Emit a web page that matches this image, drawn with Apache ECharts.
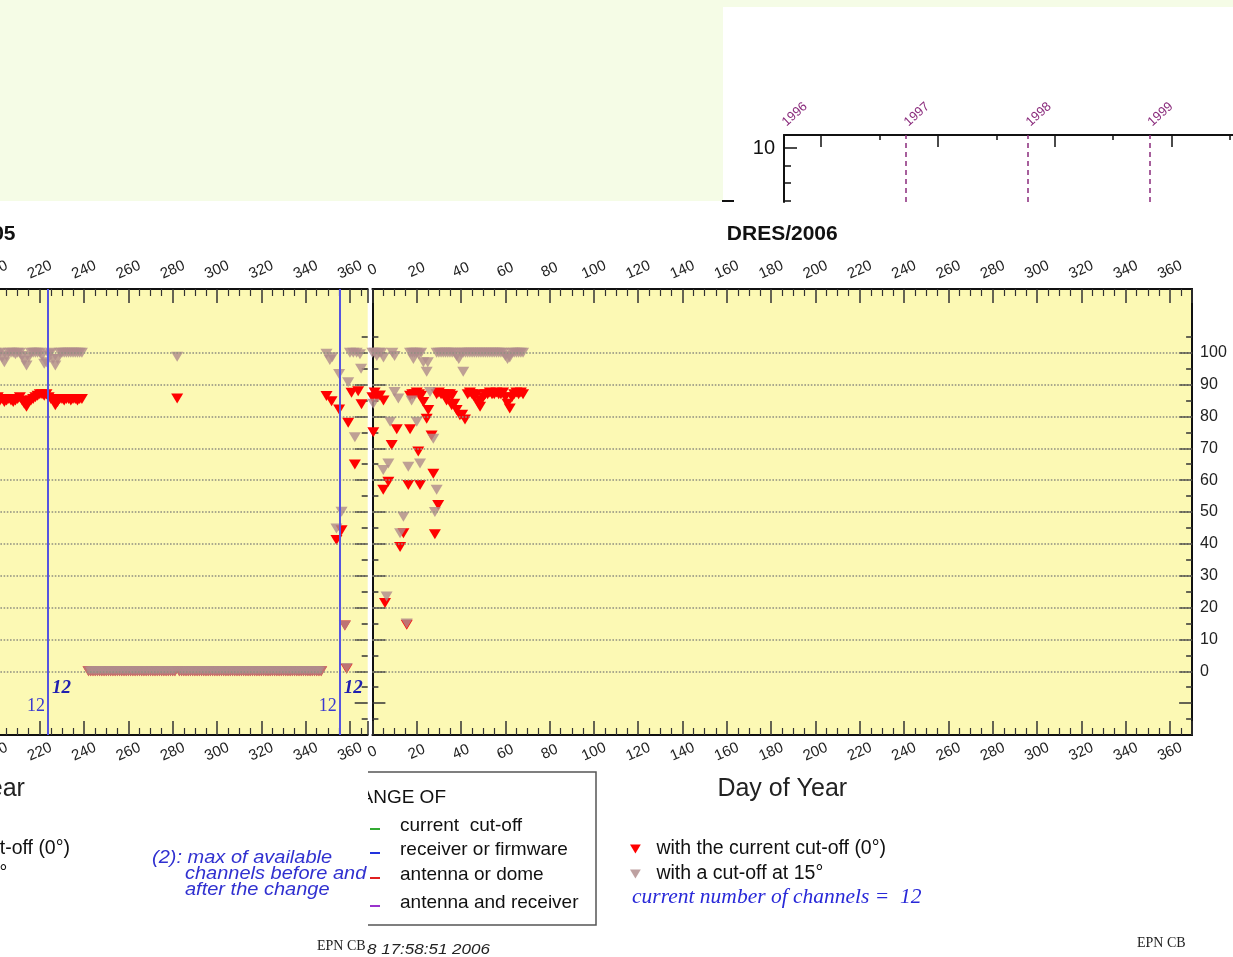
<!DOCTYPE html>
<html><head><meta charset="utf-8">
<script src="https://cdn.jsdelivr.net/npm/echarts@6/dist/echarts.min.js"></script>
<style>
html,body{margin:0;padding:0;background:#fff;overflow:hidden;}
#bgA{position:absolute;left:0;top:0;width:1233px;height:7px;background:#f5fce6;}
#bgB{position:absolute;left:0;top:0;width:723px;height:201px;background:#f5fce6;}
#chart{position:absolute;left:0;top:0;width:1233px;height:957px;}
</style></head><body>
<div id="bgA"></div><div id="bgB"></div><div id="chart"></div>
<script>
// ---------------- data ----------------
const RED_NAME = 'with the current cut-off (0°)';
const GREY_NAME = 'with a cut-off at 15°';
const title2005 = 'DRES/2005';
const title2006 = 'DRES/2006';
const xName = 'Day of Year';

const yGridValues = [0,10,20,30,40,50,60,70,80,90,100];
const yMajorTicks = [-10,0,10,20,30,40,50,60,70,80,90,100];
const yMinorTicks = [-15,-5,5,15,25,35,45,55,65,75,85,95,105];
const yLabelValues = [0,10,20,30,40,50,60,70,80,90,100];

const changeDays2005 = [223.7, 355.4];
const channelsBefore = ['12','12'];
const channelsAfter = ['12','12'];

// days where both series read 0 in 2005
const zeroRowDays2005 = [242,243,244,245,246,247,248,249,250,251,252,253,254,255,256,257,258,259,260,261,262,263,264,265,266,267,268,269,270,271,272,273,274,275,276,277,278,279,280,281,
283,284,285,286,287,288,289,290,291,292,293,294,295,296,297,298,299,300,301,302,303,304,305,306,307,308,309,310,311,312,313,314,315,316,317,318,319,320,321,322,323,324,325,326,327,328,329,330,331,332,333,334,335,336,337,338,339,340,341,342,343,344,345,346,347];

const red2005 = [
 [200,85.5],[201,86],[202,85],[203,85.5],[204,84.5],[205,85],[206,85.5],[207,85],[208,84.5],[209,85],
 [210,85.5],[211,86],[212,85],[213,84],[214,83],[215,84.5],[216,85],[217,85.5],[218,86],[219,86.5],
 [220,87],[221,87],[222,86.5],[223,87],[224,86],[225,85.5],[226,85],[227,83.5],[228,84.5],[229,85.5],
 [230,85.5],[231,85],[232,85.5],[233,85.5],[234,85],[235,85.5],[236,85.5],[237,85],[238,85.5],[239,85.5],
 [282,85.6],
 [349.4,86.4],[351.7,84.8],[355.1,82.2],[360.7,87.4],[363.7,87.9],[365.2,83.8],[359.2,78],[362.2,64.9],
 [356.2,44.3],[353.9,41.2],[357.7,14.4],[358.5,0.8]
];
const grey2005 = [
 [200,100],[201,99.5],[202,100],[203,98.5],[204,97],[205,99],[206,100],[207,100],[208,100],[209,99.5],
 [210,100],[211,100],[212,99],[213,97.5],[214,96],[215,98.5],[216,100],[217,100],[218,100],[219,100],
 [220,100],[221,99],[222,96.5],[223,97],[224,99.5],[225,100],[226,98],[227,96],[228,98],[229,100],
 [230,100],[231,100],[232,100],[233,100],[234,100],[235,100],[236,100],[237,100],[238,100],[239,100],
 [282,98.7],
 [349.4,99.7],[350.9,97.7],[352,98.6],[355.1,93.3],[359.2,90.7],[360,100],[361.5,100],[363,100],[364.5,99.5],
 [365,95],[362.2,73.5],[356.2,50.1],[353.9,44.8],[357.7,14.4],[358.5,1]
];
const red2006 = [
 [0,86],[1,87.5],[2,86],[3.4,86.6],[5,85],
 [17,86.5],[18,87],[19,87],[20,87.5],[21,87],[22,86.5],[23,84.5],
 [29,87],[30,87.5],[31,87],[32,87],[33,86],[34,87],[35,87],[36,86.5],
 [33.5,85],[35.8,83.5],[37,84],[38,82],[39.5,80.4],[40.5,80.5],[41.8,79],
 [43,87],[44,87.5],[45,87],[46,86],[47,87],[48,84],[48.6,83],[49,85],[50,86],[51,87],[52,87],[53,87.5],
 [54,87],[55,87],[56,87.5],[57,87],[58,87],[59,87.5],[60,86],[61,84],[62,82.5],[63,86],[64,87],[65,87.5],
 [66,87],[67,87.5],[68,87],
 [0.4,75],[11,76],[17,76],[8.7,71],[20.7,69],[26.7,74],[24.5,79.3],[25.2,82],[27.5,62],[7.2,59.5],[4.9,57],
 [16.2,58.5],[21.5,58.5],[29.7,52.2],[14,43.3],[12.5,39],[28.2,43],[5.7,21.4],[15.5,14.6]
];
const grey2006 = [
 [0,100],[1,100],[2,99],[3,100],[4,100],[5,98.5],[9,100],[10,99],
 [17,100],[18,100],[18.5,98],[19,100],[20,100],[21,99.5],[22,100],[23,97],[24.5,94],[25,97],
 [29,100],[30,100],[31,100],[32,100],[33,100],[34,100],[35,100],[36,100],[37,100],[38,99],[39,98],[40,100],
 [41,100],[42,100],[43,100],[44,100],[45,100],[46,100],[47,100],[48,100],[49,100],[50,100],[51,100],[52,100],
 [53,100],[54,100],[55,100],[56,100],[57,100],[58,100],[59,100],[60,99],[61,98],[62,98.5],[63,100],[64,100],
 [65,100],[66,100],[67,100],[68,100],
 [41,94],
 [0.4,84],[10,87.7],[11.7,85.6],[17.7,85],[26,87.7],[8,78.3],[20,78.3],[27.5,73],[7.2,65.2],[4.9,63.2],
 [16.2,64.2],[21.5,65.2],[29,57],[28.2,50],[14,48.5],[12.5,43.3],[6.4,23.5],[15.5,15]
];

// top-right inset (x in GPS weeks)
const yearLabels = ['1996','1997','1998','1999'];
const yearStartWeeks = [834.14, 886.43, 938.57, 990.71];
const weekMajorTicks = [850, 900, 950, 1000];
const weekMinorTicks = [875, 925, 975, 1025];
const insetMajorY = [10];
const insetMinorY = [7, 8, 9];

// legend box (CHANGE OF)
const changeTypes = ['current  cut-off','receiver or firmware','antenna or dome','antenna and receiver'];
const changeColors = ['#33aa33','#2233dd','#e02020','#9933cc'];

// ---------------- build ----------------
const FONT = '"Liberation Sans", Arial, Helvetica, sans-serif';
const SERIF = '"Liberation Serif", "Times New Roman", serif';
const TRI = 'path://M0,0L12,0L6,10Z';
const RED = '#ff0000';
const GREY = '#b08c8c';
const PLOT_BG = '#fcf9b4';

const full2005Red = red2005.concat(zeroRowDays2005.map(d => [d, 0]));
const full2005Grey = grey2005.concat(zeroRowDays2005.map(d => [d, 0]));

function dayAxis(grid, pos, min, max, withName) {
  return {
    type:'value', gridIndex:grid, position:pos, min:min, max:max, interval:20,
    axisLine:{show:true, onZero:false, lineStyle:{color:'#111', width:2}},
    axisTick:{show:true, inside:true, length:14, lineStyle:{color:'#333', width:1.5}},
    minorTick:{show:true, splitNumber:4, length:7, lineStyle:{color:'#333', width:1.2}},
    axisLabel:{show:true, rotate: pos==='top' ? -24 : 24, margin: pos==='top'?19:17, align:'center', verticalAlign:'middle',
      fontSize:15, fontFamily:FONT, color:'#222'},
    splitLine:{show:false}, minorSplitLine:{show:false},
    name: withName ? xName : '', nameLocation:'middle', nameGap:42,
    nameTextStyle:{fontSize:25, fontFamily:FONT, color:'#222'}
  };
}
function yAxisT(grid, pos, ticks, len, line, labels) {
  const a = {
    type:'value', gridIndex:grid, position:pos, min:-20, max:120,
    axisLine:{show:line, onZero:false, lineStyle:{color:'#111', width:2}},
    axisTick:{show:true, inside:true, length:len, customValues:ticks, lineStyle:{color:'#333', width:1.5}},
    axisLabel:{show:false},
    splitLine:{show:false}
  };
  if (labels) a.axisLabel = {show:true, customValues:labels, margin:8, fontSize:16, fontFamily:FONT, color:'#222'};
  return a;
}

const G0 = {left:-447.6, top:289, width:815.3, height:446};
const G1 = {left:372.4, top:289, width:819.7, height:446};
const G2 = {left:784, top:135, width:449, height:67};
const WEEK_MIN = 834.14, WEEK_MAX = 834.14 + 449/2.3366;
const Y2_MIN = 6.914, Y2_MAX = 10.743;

const gridLineSeries = (xi, yi) => ({
  type:'scatter', xAxisIndex:xi, yAxisIndex:yi, data:[], z:1, silent:true,
  markLine:{silent:true, symbol:'none', label:{show:false}, animation:false,
    lineStyle:{type:'dotted', color:'#8f8f80', width:1.6},
    data: yGridValues.map(v => ({yAxis:v}))}
});
const triSeries = (name, color, xi, yi, data, z, op) => ({
  name:name, type:'scatter', xAxisIndex:xi, yAxisIndex:yi, data:data, z:z,
  symbol:TRI, symbolSize:[12,10], itemStyle:{color:color, opacity:op}, animation:false
});
const gridBase = {show:true, borderWidth:0, outerBoundsMode:'none', containLabel:false};

const option = {
  animation:false,
  backgroundColor:'transparent',
  grid:[
    Object.assign({}, gridBase, {backgroundColor:PLOT_BG}, G0),
    Object.assign({}, gridBase, {backgroundColor:PLOT_BG}, G1),
    Object.assign({}, gridBase, {backgroundColor:'#ffffff'}, G2)
  ],
  xAxis:[
    dayAxis(0,'top',0,368,false),
    dayAxis(0,'bottom',0,368,true),
    dayAxis(1,'top',0,370,false),
    dayAxis(1,'bottom',0,370,true),
    {type:'value', gridIndex:2, position:'top', min:WEEK_MIN, max:WEEK_MAX,
     axisLine:{show:true, onZero:false, lineStyle:{color:'#111', width:2}},
     axisTick:{show:false},
     axisLabel:{show:true, customValues:yearStartWeeks, rotate:-42, margin:11, fontSize:13, fontFamily:FONT,
       color:'#8a2b7c', formatter:function(v){
         let best=0; for (let i=0;i<yearStartWeeks.length;i++){ if (Math.abs(yearStartWeeks[i]-v)<Math.abs(yearStartWeeks[best]-v)) best=i; }
         return yearLabels[best]; }},
     splitLine:{show:false}},
    {type:'value', gridIndex:2, position:'top', min:WEEK_MIN, max:WEEK_MAX,
     axisLine:{show:false, onZero:false}, axisLabel:{show:false}, splitLine:{show:false},
     axisTick:{show:true, inside:true, length:12, customValues:weekMajorTicks, lineStyle:{color:'#111', width:1.5}}},
    {type:'value', gridIndex:2, position:'top', min:WEEK_MIN, max:WEEK_MAX,
     axisLine:{show:false, onZero:false}, axisLabel:{show:false}, splitLine:{show:false},
     axisTick:{show:true, inside:true, length:5, customValues:weekMinorTicks, lineStyle:{color:'#111', width:1.5}}}
  ],
  yAxis:[
    yAxisT(0,'right',yMajorTicks,13,false,null),
    yAxisT(0,'right',yMinorTicks,6,false,null),
    yAxisT(1,'left',yMajorTicks,13,true,null),
    yAxisT(1,'left',yMinorTicks,6,false,null),
    yAxisT(1,'right',yMajorTicks,13,true,yLabelValues),
    yAxisT(1,'right',yMinorTicks,6,false,null),
    {type:'value', gridIndex:2, position:'left', min:Y2_MIN, max:Y2_MAX,
     axisLine:{show:true, onZero:false, lineStyle:{color:'#111', width:2}},
     axisTick:{show:true, inside:true, length:13, customValues:insetMajorY, lineStyle:{color:'#111', width:1.5}},
     axisLabel:{show:true, customValues:insetMajorY, margin:9, fontSize:20, fontFamily:FONT, color:'#111'},
     splitLine:{show:false}},
    {type:'value', gridIndex:2, position:'left', min:Y2_MIN, max:Y2_MAX,
     axisLine:{show:false, onZero:false}, axisLabel:{show:false}, splitLine:{show:false},
     axisTick:{show:true, inside:true, length:7, customValues:insetMinorY, lineStyle:{color:'#111', width:1.5}}}
  ],
  legend:[
    {left:625, top:834, orient:'vertical', itemGap:5, itemWidth:32, itemHeight:9, selectedMode:false,
     textStyle:{fontSize:19.5, fontFamily:FONT, color:'#111'},
     data:[{name:RED_NAME, icon:TRI},{name:GREY_NAME, icon:TRI}]},
    {left:-191, top:834, orient:'vertical', itemGap:5, itemWidth:32, itemHeight:9, selectedMode:false,
     textStyle:{fontSize:19.5, fontFamily:FONT, color:'#111'},
     data:[{name:RED_NAME, icon:TRI},{name:GREY_NAME, icon:TRI}]}
  ],
  series:[
    gridLineSeries(0,0),
    triSeries(RED_NAME, RED, 0, 0, full2005Red, 2, 1),
    triSeries(GREY_NAME, GREY, 0, 0, full2005Grey, 3, 0.82),
    {type:'scatter', xAxisIndex:0, yAxisIndex:0, data:[], z:5, silent:true,
     markLine:{silent:true, symbol:'none', label:{show:false}, animation:false,
       lineStyle:{type:'solid', color:'#5555e0', width:2},
       data: changeDays2005.map(d => ({xAxis:d}))}},
    gridLineSeries(2,4),
    triSeries(RED_NAME, RED, 2, 4, red2006, 2, 1),
    triSeries(GREY_NAME, GREY, 2, 4, grey2006, 3, 0.82),
    {type:'scatter', xAxisIndex:4, yAxisIndex:6, data:[], z:2, silent:true,
     markLine:{silent:true, symbol:'none', label:{show:false}, animation:false,
       lineStyle:{type:[5,4], color:'#8a2b7c', width:1.5},
       data: yearStartWeeks.slice(1).map(w => ({xAxis:w}))}}
  ]
};

const chart = echarts.init(document.getElementById('chart'), null, {renderer:'canvas'});
chart.setOption(option);

// ---------- annotations (text) ----------
const g = [];
function txt(x, y, s, st, z, sy) {
  const el = {type:'text', x:x, y:y, z:z||50, silent:true,
    style:Object.assign({text:s, fontFamily:FONT, fontSize:16, fill:'#111', textAlign:'left', textVerticalAlign:'middle'}, st)};
  if (sy) { el.scaleY = sy; }
  g.push(el);
}
// titles centered on each plot
const c0 = G0.left + G0.width/2, c1 = G1.left + G1.width/2;
txt(c0, 234, title2005, {fontWeight:'bold', fontSize:21, textAlign:'center'});
txt(c1, 234, title2006, {fontWeight:'bold', fontSize:21, textAlign:'center'});

// channel labels next to change lines
changeDays2005.forEach((d, i) => {
  const px = chart.convertToPixel({xAxisIndex:0}, d);
  txt(px - 3, 706, channelsBefore[i], {fontFamily:SERIF, fontSize:18, fill:'#3a3ad0', textAlign:'right'}, 60);
  txt(px + 4, 688, channelsAfter[i], {fontFamily:SERIF, fontSize:19, fontWeight:'bold', fontStyle:'italic', fill:'#2020b0'}, 60);
});

// CHANGE OF box (partly hidden)
g.push({type:'polyline', z:40, silent:true, shape:{points:[[368,772],[596,772],[596,925],[368,925]]},
  style:{stroke:'#555', lineWidth:1.5, fill:null}});
txt(446, 798, 'CHANGE OF', {fontSize:19, textAlign:'right'}, 41);
const boxY = [826, 850, 875, 903];
changeTypes.forEach((t, i) => {
  g.push({type:'line', z:41, silent:true, shape:{x1:370, y1:boxY[i]+3, x2:380, y2:boxY[i]+3},
    style:{stroke:changeColors[i], lineWidth:2}});
  txt(400, boxY[i], t, {fontSize:19}, 41);
});
// left figure covers the box left of x=368
g.push({type:'rect', z:45, silent:true, shape:{x:300, y:770, width:68, height:160}, style:{fill:'#ffffff'}});

// note in blue italic (slightly condensed vertically)
txt(152, 858, '(2): max of available', {fontSize:20, fontStyle:'italic', fill:'#3030d0'}, 55, 0.9);
txt(185, 874, 'channels before and', {fontSize:20, fontStyle:'italic', fill:'#3030d0'}, 55, 0.9);
txt(185, 890, 'after the change', {fontSize:20, fontStyle:'italic', fill:'#3030d0'}, 55, 0.9);

// current number of channels
txt(632, 897, 'current number of channels =  12', {fontFamily:SERIF, fontSize:21.5, fontStyle:'italic', fill:'#2828d8'});

// footers
txt(367, 950, '8 17:58:51 2006', {fontSize:17, fontStyle:'italic', fill:'#222', textAlign:'left'}, 42, 0.88);
txt(317, 946, 'EPN CB', {fontFamily:SERIF, fontSize:14, fill:'#222'}, 56);
txt(1137, 943, 'EPN CB', {fontFamily:SERIF, fontSize:14, fill:'#222'});

// small mark at top-right panel corner
g.push({type:'line', z:40, silent:true, shape:{x1:722, y1:201, x2:734, y2:201}, style:{stroke:'#111', lineWidth:2}});

chart.setOption({graphic:{elements:g}});
</script></body></html>
